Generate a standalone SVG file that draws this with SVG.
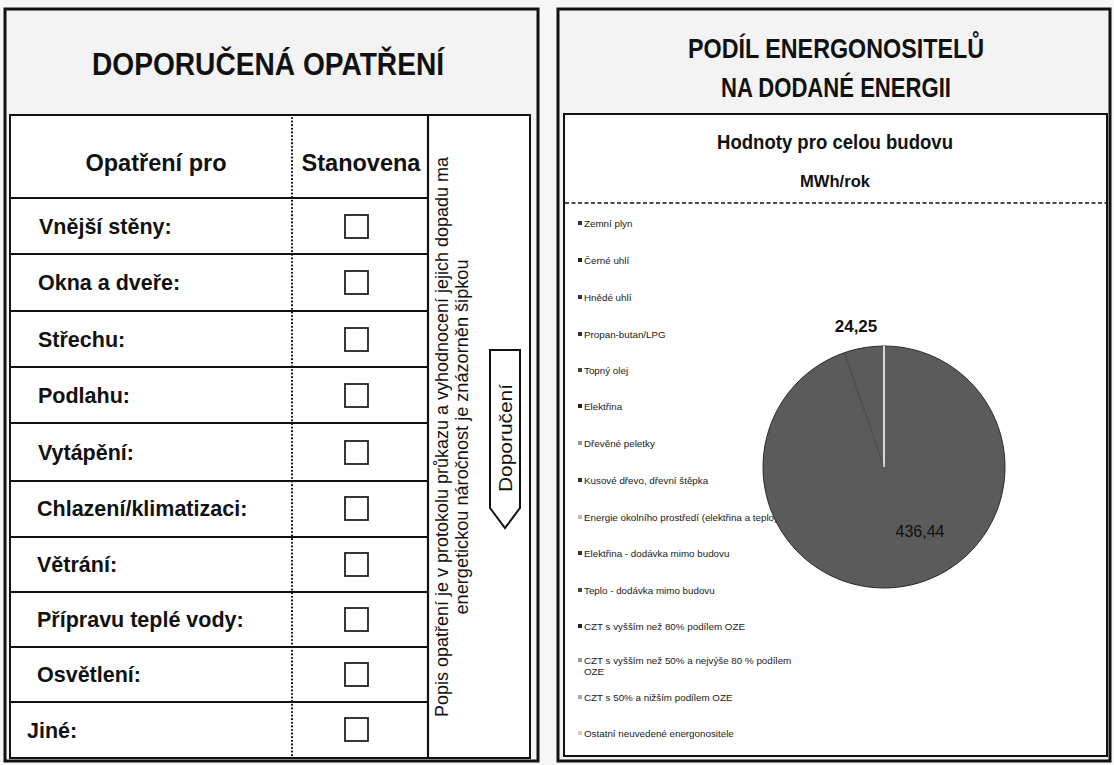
<svg xmlns="http://www.w3.org/2000/svg" width="1114" height="765" viewBox="0 0 1114 765">
<defs>
<style>
.panel{fill:#f3f3f3;stroke:#111;stroke-width:3}
.box{fill:#fff;stroke:#111;stroke-width:2}
.rowline{stroke:#111;stroke-width:2.2}
.dots{stroke:#111;stroke-width:2.2;stroke-dasharray:0 3.6;stroke-linecap:round}
.lbl{font-family:"Liberation Sans",Arial,sans-serif;font-weight:bold;font-size:21.5px;fill:#111}
.hdr{font-family:"Liberation Sans",Arial,sans-serif;font-weight:bold;font-size:23.5px;fill:#111;text-anchor:middle}
.title{font-family:"Liberation Sans",Arial,sans-serif;font-weight:bold;font-size:31px;fill:#111;text-anchor:middle}
.vt{font-family:"Liberation Sans",Arial,sans-serif;font-size:17.5px;fill:#111;text-anchor:middle}
.chk{fill:#fff;stroke:#222;stroke-width:1.8}
.leg{font-family:"Liberation Sans",Arial,sans-serif;font-size:9.8px;fill:#1a1a1a}
.sub{font-family:"Liberation Sans",Arial,sans-serif;font-weight:bold;font-size:19.5px;fill:#111;text-anchor:middle}
</style>
</defs>
<rect x="0" y="0" width="1114" height="765" fill="#f6f6f6"/>

<g id="left-panel">
<rect class="panel" x="5" y="9" width="533" height="752"/>
<text class="title" x="268" y="75" textLength="352" lengthAdjust="spacingAndGlyphs">DOPORUČENÁ OPATŘENÍ</text>
<rect class="box" x="10" y="115" width="520" height="643"/>
</g>

<g id="table-grid">
<line class="rowline" x1="428" y1="115" x2="428" y2="758"/>
<line class="dots" x1="292" y1="118" x2="292" y2="756"/>
<line class="rowline" x1="10" y1="198" x2="428" y2="198"/>
<line class="rowline" x1="10" y1="254" x2="428" y2="254"/>
<line class="rowline" x1="10" y1="311" x2="428" y2="311"/>
<line class="rowline" x1="10" y1="367" x2="428" y2="367"/>
<line class="rowline" x1="10" y1="423" x2="428" y2="423"/>
<line class="rowline" x1="10" y1="481" x2="428" y2="481"/>
<line class="rowline" x1="10" y1="537" x2="428" y2="537"/>
<line class="rowline" x1="10" y1="592" x2="428" y2="592"/>
<line class="rowline" x1="10" y1="647" x2="428" y2="647"/>
<line class="rowline" x1="10" y1="702" x2="428" y2="702"/>
</g>

<g id="header">
<text class="hdr" x="156" y="171">Opatření pro</text>
<text class="hdr" x="361" y="171">Stanovena</text>
</g>

<g id="row-steny"><text class="lbl" x="39" y="234">Vnější stěny:</text><rect class="chk" x="345" y="215" width="23" height="23"/></g>
<g id="row-okna"><text class="lbl" x="38" y="290">Okna a dveře:</text><rect class="chk" x="345" y="271" width="23" height="23"/></g>
<g id="row-strecha"><text class="lbl" x="38" y="347">Střechu:</text><rect class="chk" x="345" y="328" width="23" height="23"/></g>
<g id="row-podlaha"><text class="lbl" x="38" y="403">Podlahu:</text><rect class="chk" x="345" y="384" width="23" height="23"/></g>
<g id="row-vytapeni"><text class="lbl" x="38" y="460">Vytápění:</text><rect class="chk" x="345" y="441" width="23" height="23"/></g>
<g id="row-chlazeni"><text class="lbl" x="37" y="516">Chlazení/klimatizaci:</text><rect class="chk" x="345" y="497" width="23" height="23"/></g>
<g id="row-vetrani"><text class="lbl" x="37" y="572">Větrání:</text><rect class="chk" x="345" y="553" width="23" height="23"/></g>
<g id="row-tv"><text class="lbl" x="37" y="627">Přípravu teplé vody:</text><rect class="chk" x="345" y="608" width="23" height="23"/></g>
<g id="row-osvetleni"><text class="lbl" x="37" y="682">Osvětlení:</text><rect class="chk" x="345" y="663" width="23" height="23"/></g>
<g id="row-jine"><text class="lbl" x="27" y="738">Jiné:</text><rect class="chk" x="345" y="718" width="23" height="23"/></g>

<g id="note-column">
<text class="vt" transform="translate(448,437) rotate(-90)" textLength="560" lengthAdjust="spacingAndGlyphs">Popis opatření je v protokolu průkazu a vyhodnocení jejich dopadu ma</text>
<text class="vt" transform="translate(468,437) rotate(-90)" textLength="355" lengthAdjust="spacingAndGlyphs">energetickou náročnost je znázorněn šipkou</text>
</g>

<g id="arrow-doporuceni">
<polygon points="490,350 520,350 520,508 505,528 490,508" fill="#fff" stroke="#111" stroke-width="2"/>
<text class="vt" transform="translate(512,438) rotate(-90)" textLength="108" lengthAdjust="spacingAndGlyphs" style="font-size:19px">Doporučení</text>
</g>

<g id="right-panel">
<rect class="panel" x="558" y="9" width="552" height="752"/>
<text class="title" style="font-size:28px" x="836" y="58" textLength="296" lengthAdjust="spacingAndGlyphs">PODÍL ENERGONOSITELŮ</text>
<text class="title" style="font-size:28px" x="836" y="97" textLength="230" lengthAdjust="spacingAndGlyphs">NA DODANÉ ENERGII</text>
<rect class="box" x="564" y="114" width="543" height="642"/>
<text class="sub" x="835" y="149" textLength="236" lengthAdjust="spacingAndGlyphs">Hodnoty pro celou budovu</text>
<text class="sub" style="font-size:16.5px" x="835" y="187" textLength="70" lengthAdjust="spacingAndGlyphs">MWh/rok</text>
<line x1="565" y1="203" x2="1106" y2="203" stroke="#111" stroke-width="1.6" stroke-dasharray="4 2.5"/>
</g>

<g id="legend">
<rect x="578" y="221" width="4" height="4" fill="#333"/><text class="leg" x="584" y="227">Zemní plyn</text>
<rect x="578" y="258" width="4" height="4" fill="#222"/><text class="leg" x="584" y="264">Černé uhlí</text>
<rect x="578" y="295" width="4" height="4" fill="#333"/><text class="leg" x="584" y="301">Hnědé uhlí</text>
<rect x="578" y="332" width="4" height="4" fill="#333"/><text class="leg" x="584" y="338">Propan-butan/LPG</text>
<rect x="578" y="368" width="4" height="4" fill="#444"/><text class="leg" x="584" y="374">Topný olej</text>
<rect x="578" y="404" width="4" height="4" fill="#222"/><text class="leg" x="584" y="410">Elektřina</text>
<rect x="578" y="441" width="4" height="4" fill="#999"/><text class="leg" x="584" y="447">Dřevěné peletky</text>
<rect x="578" y="478" width="4" height="4" fill="#333"/><text class="leg" x="584" y="484">Kusové dřevo, dřevní štěpka</text>
<rect x="578" y="515" width="4" height="4" fill="#bbb"/><text class="leg" x="584" y="521">Energie okolního prostředí (elektřina a teplo)</text>
<rect x="578" y="551" width="4" height="4" fill="#333"/><text class="leg" x="584" y="557">Elektřina - dodávka mimo budovu</text>
<rect x="578" y="588" width="4" height="4" fill="#444"/><text class="leg" x="584" y="594">Teplo - dodávka mimo budovu</text>
<rect x="578" y="624" width="4" height="4" fill="#222"/><text class="leg" x="584" y="630">CZT s vyšším než 80% podílem OZE</text>
<rect x="578" y="658" width="4" height="4" fill="#999"/><text class="leg" x="584" y="664">CZT  s vyšším než 50% a nejvýše 80 % podílem</text><text class="leg" x="584" y="675">OZE</text>
<rect x="578" y="695" width="4" height="4" fill="#aaa"/><text class="leg" x="584" y="701">CZT s 50% a nižším podílem OZE</text>
<rect x="578" y="731" width="4" height="4" fill="#ccc"/><text class="leg" x="584" y="737">Ostatní neuvedené energonositele</text>
</g>

<g id="pie">
<path d="M884,467 L884,346 A121,121 0 1 1 844.6,352.6 Z" fill="#5b5b5b" stroke="#2a2a2a" stroke-width="1"/>
<path d="M884,467 L844.6,352.6 A121,121 0 0 1 884,346 Z" fill="#5b5b5b" stroke="#2a2a2a" stroke-width="1"/>
<line x1="884" y1="346" x2="884" y2="467" stroke="#fff" stroke-width="1.6"/>
<line x1="884" y1="467" x2="844.6" y2="352.6" stroke="#888" stroke-width="0.8" opacity="0.6"/>
<text x="856" y="332" font-family="Liberation Sans, Arial, sans-serif" font-weight="bold" font-size="17" fill="#111" text-anchor="middle">24,25</text>
<text x="920" y="537" font-family="Liberation Sans, Arial, sans-serif" font-size="16" fill="#111" text-anchor="middle">436,44</text>
</g>
</svg>
